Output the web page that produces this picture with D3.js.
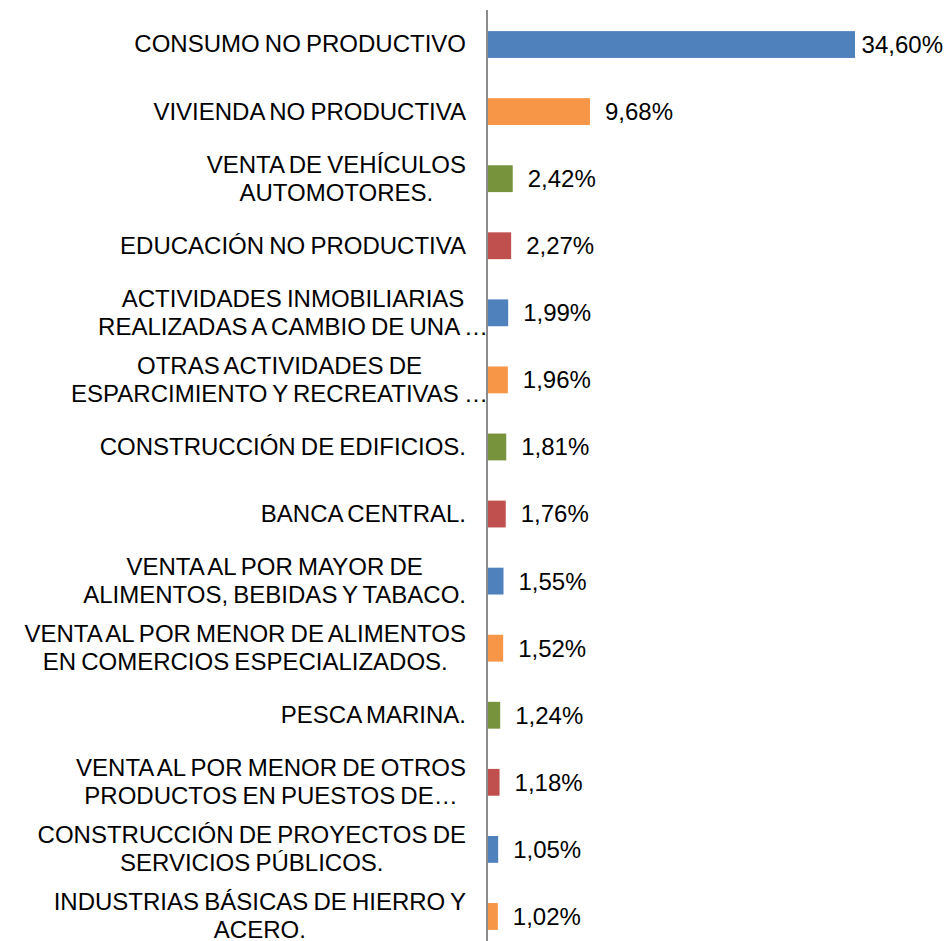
<!DOCTYPE html>
<html>
<head>
<meta charset="utf-8">
<script src="https://cdn.jsdelivr.net/npm/d3@7"></script>
<style>
  body { margin: 0; background: #fff; }
  text { font-family: "Liberation Sans", Arial, sans-serif; fill: #000; }
</style>
</head>
<body>
<svg id="chart"></svg>
<script>
var WIDTH = 946;
var HEIGHT = 941;

// labels as they are wrapped / cut in the picture
var CATEGORIES = [
  "CONSUMO NO PRODUCTIVO",
  "VIVIENDA NO PRODUCTIVA",
  "VENTA DE VEHÍCULOS\nAUTOMOTORES.",
  "EDUCACIÓN NO PRODUCTIVA",
  "ACTIVIDADES INMOBILIARIAS\nREALIZADAS A CAMBIO DE UNA …",
  "OTRAS ACTIVIDADES DE\nESPARCIMIENTO Y RECREATIVAS …",
  "CONSTRUCCIÓN DE EDIFICIOS.",
  "BANCA CENTRAL.",
  "VENTA AL POR MAYOR DE\nALIMENTOS, BEBIDAS Y TABACO.",
  "VENTA AL POR MENOR DE ALIMENTOS\nEN COMERCIOS ESPECIALIZADOS.",
  "PESCA MARINA.",
  "VENTA AL POR MENOR DE OTROS\nPRODUCTOS EN PUESTOS DE…",
  "CONSTRUCCIÓN DE PROYECTOS DE\nSERVICIOS PÚBLICOS.",
  "INDUSTRIAS BÁSICAS DE HIERRO Y\nACERO."
];
var VALUES = [34.60, 9.68, 2.42, 2.27, 1.99, 1.96, 1.81, 1.76, 1.55, 1.52, 1.24, 1.18, 1.05, 1.02];
var COLORS = ["#4F81BD", "#F79646", "#77933C", "#C0504D"];

var AXIS_X = 487;
var LABEL_RIGHT = 466;
var FONT = 24;
var LINE_H = 28;

var svg = d3.select("#chart")
  .attr("width", WIDTH)
  .attr("height", HEIGHT);

var x = d3.scaleLinear()
  .domain([0, 34.60])
  .range([AXIS_X, 855]);

var y = d3.scaleBand()
  .domain(d3.range(CATEGORIES.length))
  .range([11, 950])
  .paddingInner(0.6)
  .paddingOuter(0.3);

var fmt = function(v) { return d3.format(".2f")(v).replace(".", ",") + "%"; };

// bars
svg.selectAll("rect.bar")
  .data(VALUES)
  .enter()
  .append("rect")
  .attr("class", "bar")
  .attr("x", x(0))
  .attr("y", (d, i) => y(i))
  .attr("width", d => x(d) - x(0))
  .attr("height", y.bandwidth())
  .attr("fill", (d, i) => COLORS[i % COLORS.length]);

// axis line
svg.append("line")
  .attr("x1", AXIS_X).attr("x2", AXIS_X)
  .attr("y1", 10).attr("y2", HEIGHT)
  .attr("stroke", "#8c8c8c")
  .attr("stroke-width", 2);

// value labels
svg.selectAll("text.value")
  .data(VALUES)
  .enter()
  .append("text")
  .attr("class", "value")
  .attr("font-size", FONT)
  .attr("dy", "0.35em")
  .attr("y", (d, i) => y(i) + y.bandwidth() / 2)
  .text(d => fmt(d))
  .attr("x", function(d) {
    var w = this.getComputedTextLength();
    return Math.min(x(d) + 15, WIDTH - 3 - w);
  });

// category labels, lines centred on each other, block right aligned
CATEGORIES.forEach(function(cat, i) {
  var lines = cat.split("\n");
  var cy = y(i) + y.bandwidth() / 2;
  var g = svg.append("g").attr("class", "cat");
  var texts = lines.map(function(line, j) {
    return g.append("text")
      .attr("font-size", FONT)
      .attr("word-spacing", -1.5)
      .attr("text-anchor", "middle")
      .attr("dy", "0.33em")
      .attr("y", cy + (j - (lines.length - 1) / 2) * LINE_H)
      .text(line);
  });
  var widths = texts.map(t => t.node().getComputedTextLength());
  var maxW = d3.max(widths);
  var widest = lines[widths.indexOf(maxW)];
  // a cut label lets its ellipsis run past the label column
  var over = / …$/.test(widest) ? 22 : 0;
  texts.forEach(t => t.attr("x", LABEL_RIGHT + over - maxW / 2));
});
</script>
</body>
</html>
